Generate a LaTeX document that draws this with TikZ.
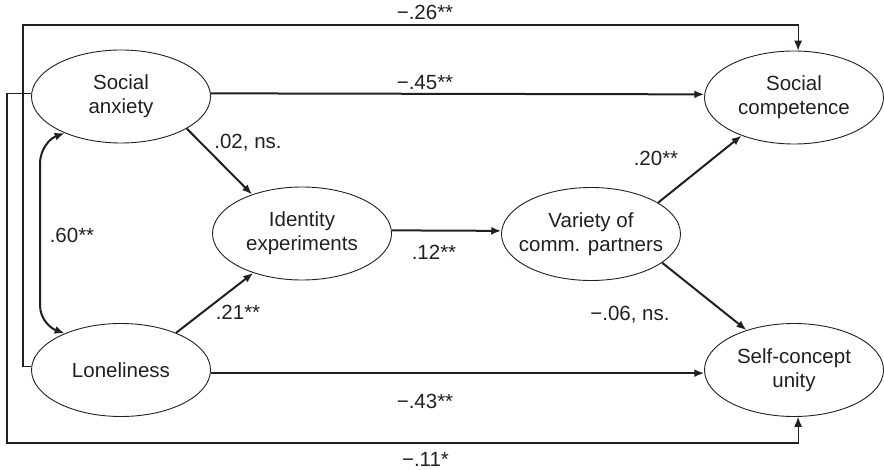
\documentclass[tikz,border=0pt]{standalone}
\usepackage{fontspec}
\setmainfont{Liberation Sans}
\usetikzlibrary{shapes.geometric,arrows.meta}
\definecolor{ink}{RGB}{35,31,32}
\tikzset{
  ell/.style={draw=ink, ellipse, line width=0.9pt, minimum width=179pt, minimum height=93pt, inner sep=0pt},
  etext/.style={text=ink, align=center, inner sep=0pt, font=\fontsize{20.5}{24}\selectfont},
  lab/.style={text=ink, inner sep=0pt, anchor=base, font=\fontsize{20.5}{24}\selectfont},
  thickarr/.style={draw=ink, line width=2pt, -{Latex[length=10pt,width=8pt]}},
  thinarr/.style={draw=ink, line width=1.1pt, -{Latex[length=10pt,width=8pt]}},
  dblarr/.style={draw=ink, line width=2pt, {Latex[length=10pt,width=8pt]}-{Latex[length=10pt,width=8pt]}}
}
\begin{document}
\begin{tikzpicture}[x=1pt,y=1pt]
\useasboundingbox (0,0) rectangle (884,469);
% ellipses
\node[ell] (sa) at (121,372.5) {};
\node[ell] (lon) at (121,99) {};
\node[ell] (id) at (302,235.5) {};
\node[ell] (va) at (591,235) {};
\node[ell] (sc) at (794,371.5) {};
\node[ell] (scu) at (794,99) {};
% texts
\node[etext] (tsa) at (sa) {Social\\anxiety};
\node[etext] (tlon) at (lon) {Loneliness};
\node[etext] (tid) at (id) {Identity\\experiments};
\node[etext] (tva) at (va) {Variety of\\comm. partners};
\node[etext] (tsc) at (sc) {Social\\competence};
\node[etext] (tscu) at (scu) {Self-concept\\unity};
% corner coordinates
\coordinate (tl) at (23,444);
\coordinate (bl) at (7,26);
\coordinate (c60a) at (40,305);
\coordinate (c60b) at (40,164);
% connectors
\draw[thickarr] (sa.2) -- (sc.178);
\draw[thickarr] (lon.-2) -- (scu.182);
\draw[thickarr] (id.2) -- (va.178);
\draw[thickarr] (sa.-26.6) -- (id.142);
\draw[thickarr] (lon.34.6) -- (id.219);
\draw[thickarr] (va.25.9) -- (sc.216.2);
\draw[thickarr] (va.-22.2) -- (scu.140.3);
\draw[thinarr] (lon.178) -| (tl) -| (sc.85);
\draw[thinarr] (sa.178) -| (bl) -| (scu.-85);
\draw[dblarr] (sa.213) to[out=200,in=90] (c60a) -- (c60b) to[out=-90,in=160] (lon.147);
% labels
\node[lab] (l26) at (425,449) {−.26**};
\node[lab] (l45) at (425,379) {−.45**};
\node[lab] (l43) at (425,61) {−.43**};
\node[lab] (l11) at (425.5,3) {−.11*};
\node[lab] (l02) at (248,320) {.02, ns.};
\node[lab] (l60) at (72,226) {.60**};
\node[lab] (l21) at (238,149) {.21**};
\node[lab] (l12) at (434,209) {.12**};
\node[lab] (l20) at (656,303) {.20**};
\node[lab] (l06) at (630,148) {−.06, ns.};
\end{tikzpicture}
\end{document}
